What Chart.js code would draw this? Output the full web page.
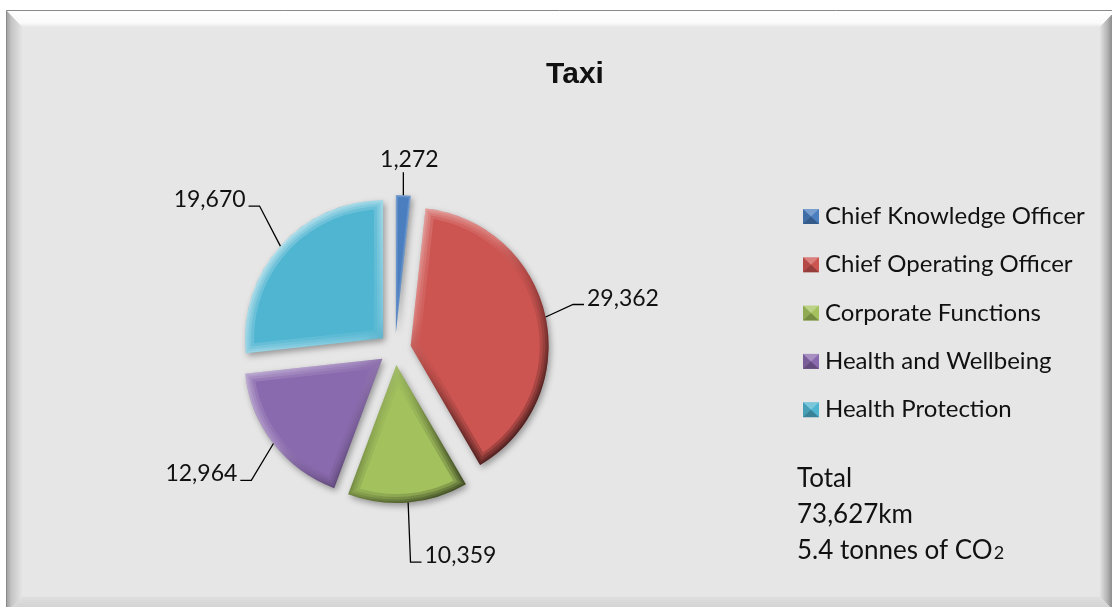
<!DOCTYPE html>
<html>
<head>
<meta charset="utf-8">
<title>Taxi</title>
<script src="https://cdn.jsdelivr.net/npm/chart.js@4.4.0/dist/chart.umd.min.js"></script>
<style>
  html, body { margin: 0; padding: 0; background: #ffffff; }
  #wrap { position: relative; width: 1112px; height: 607px; }
</style>
</head>
<body>
<div id="wrap"><canvas id="taxiChart"></canvas></div>
<script>
// ---- data ----
const chartTitle = 'Taxi';
const categories = ['Chief Knowledge Officer', 'Chief Operating Officer', 'Corporate Functions', 'Health and Wellbeing', 'Health Protection'];
const kilometres = [1272, 29362, 10359, 12964, 19670];
const co2Tonnes = 5.4;

// ---- styling ----
const sliceColors = ['#4a7ebf', '#cd5551', '#a3c25e', '#8a6aae', '#50b5d1'];
const TEXT_COLOR = '#111111';
const FONT = 'Lato, "Open Sans", sans-serif';
const W = 1112, H = 607;
const PIE_CX = 395, PIE_CY = 349, PIE_R = 138, EXPLODE = 16;
// label elbows sit on an ellipse around the pie
const LEADER_X = 28, LEADER_Y = 60, LEADER_TOP = 23;

const fmt = v => v.toLocaleString('en-US');
const totalKm = kilometres.reduce((a, b) => a + b, 0);

// Gray bevelled frame behind everything
const framePlugin = {
  id: 'frame',
  beforeDraw(chart) {
    const ctx = chart.ctx;
    const L = 6, T = 10, R = 1116, B = 613, bw = 16;
    ctx.save();
    ctx.fillStyle = '#ffffff';
    ctx.fillRect(0, 0, W, H);
    ctx.fillStyle = '#e6e6e6';
    ctx.fillRect(L, T, R - L, B - T);

    // top bevel
    let g = ctx.createLinearGradient(0, T, 0, T + bw + 1);
    g.addColorStop(0, '#ffffff'); g.addColorStop(0.75, '#fbfbfb'); g.addColorStop(1, '#e8e8e8');
    ctx.fillStyle = g;
    ctx.beginPath(); ctx.moveTo(L, T); ctx.lineTo(R, T); ctx.lineTo(R - bw, T + bw + 1); ctx.lineTo(L + bw, T + bw + 1); ctx.closePath(); ctx.fill();
    // left bevel
    g = ctx.createLinearGradient(L, 0, L + bw, 0);
    g.addColorStop(0, '#9c9c9c'); g.addColorStop(0.35, '#c6c6c6'); g.addColorStop(1, '#e4e4e4');
    ctx.fillStyle = g;
    ctx.beginPath(); ctx.moveTo(L, T); ctx.lineTo(L + bw, T + bw + 1); ctx.lineTo(L + bw, B - bw); ctx.lineTo(L, B); ctx.closePath(); ctx.fill();
    // right bevel
    g = ctx.createLinearGradient(R - bw, 0, R, 0);
    g.addColorStop(0, '#e2e2e2'); g.addColorStop(0.45, '#b4b4b4'); g.addColorStop(0.75, '#8c8c8c'); g.addColorStop(1, '#7a7a7a');
    ctx.fillStyle = g;
    ctx.beginPath(); ctx.moveTo(R, T); ctx.lineTo(R - bw, T + bw + 1); ctx.lineTo(R - bw, B - bw); ctx.lineTo(R, B); ctx.closePath(); ctx.fill();
    // bottom bevel
    g = ctx.createLinearGradient(0, B - bw, 0, B);
    g.addColorStop(0, '#dedede'); g.addColorStop(1, '#cfcfcf');
    ctx.fillStyle = g;
    ctx.beginPath(); ctx.moveTo(L + bw, B - bw); ctx.lineTo(R - bw, B - bw); ctx.lineTo(R, B); ctx.lineTo(L, B); ctx.closePath(); ctx.fill();

    // outer edge
    ctx.strokeStyle = '#8a8a8a';
    ctx.lineWidth = 1;
    ctx.beginPath(); ctx.moveTo(L + 0.5, B); ctx.lineTo(L + 0.5, T + 0.5); ctx.lineTo(R, T + 0.5); ctx.stroke();
    ctx.restore();
  }
};

// Pull every slice outward along its mid angle
const explodePlugin = {
  id: 'explode',
  afterDatasetUpdate(chart, args) {
    args.meta.data.forEach(arc => {
      const mid = (arc.startAngle + arc.endAngle) / 2;
      arc.x += Math.cos(mid) * EXPLODE;
      arc.y += Math.sin(mid) * EXPLODE;
    });
  }
};

function slicePath(ctx, a) {
  ctx.beginPath();
  ctx.moveTo(a.x, a.y);
  ctx.arc(a.x, a.y, a.outerRadius, a.startAngle, a.endAngle);
  ctx.closePath();
}

// Drop shadow under the slices and a soft bevel on their edges
const bevelPlugin = {
  id: 'bevel',
  beforeDatasetDraw(chart) {
    const ctx = chart.ctx;
    ctx.save();
    ctx.shadowColor = 'rgba(0,0,0,0.35)';
    ctx.shadowBlur = 6;
    ctx.shadowOffsetX = 2;
    ctx.shadowOffsetY = 3;
  },
  afterDatasetDraw(chart, args) {
    const ctx = chart.ctx;
    ctx.restore();
    args.meta.data.forEach(a => {
      const r = a.outerRadius;
      // thin slices get a narrower bevel so their colour stays visible
      const widths = (a.endAngle - a.startAngle) < 0.3 ? [4, 2] : [18, 12, 7, 3];
      ctx.save();
      slicePath(ctx, a);
      ctx.clip();
      const g = ctx.createLinearGradient(a.x - r * 0.75, a.y - r * 0.75, a.x + r * 0.75, a.y + r * 0.75);
      g.addColorStop(0, 'rgba(255,255,255,0.6)');
      g.addColorStop(0.45, 'rgba(255,255,255,0.2)');
      g.addColorStop(0.6, 'rgba(0,0,0,0.12)');
      g.addColorStop(1, 'rgba(0,0,0,0.7)');
      ctx.strokeStyle = g;
      ctx.lineJoin = 'round';
      ctx.globalAlpha = 0.32;
      widths.forEach(w => {
        ctx.lineWidth = w;
        slicePath(ctx, a);
        ctx.stroke();
      });
      ctx.restore();
    });
  }
};

// Value labels with elbow leader lines
const valueLabelPlugin = {
  id: 'valueLabels',
  afterDatasetsDraw(chart) {
    const ctx = chart.ctx;
    const meta = chart.getDatasetMeta(0);
    const values = chart.data.datasets[0].data;
    const ca = chart.chartArea;
    const cx = (ca.left + ca.right) / 2, cy = (ca.top + ca.bottom) / 2;
    ctx.save();
    ctx.font = '23px ' + FONT;
    ctx.fillStyle = TEXT_COLOR;
    ctx.strokeStyle = '#000000';
    ctx.lineWidth = 1.3;
    meta.data.forEach((a, i) => {
      const mid = (a.startAngle + a.endAngle) / 2;
      const dx = Math.cos(mid), dy = Math.sin(mid);
      const px = a.x + dx * a.outerRadius, py = a.y + dy * a.outerRadius;
      const base = a.outerRadius + EXPLODE;
      const ex = cx + dx * (base + LEADER_X), ey = cy + dy * (base + LEADER_Y);
      const text = fmt(values[i]);
      if (Math.abs(dx) < 0.1 && dy < 0) {
        const ty = py - LEADER_TOP;
        ctx.beginPath(); ctx.moveTo(px, py); ctx.lineTo(px, ty); ctx.stroke();
        ctx.textAlign = 'center';
        ctx.textBaseline = 'alphabetic';
        ctx.fillText(text, px + 6, ty - 5);
      } else {
        const side = dx >= 0 ? 1 : -1;
        ctx.beginPath(); ctx.moveTo(px, py); ctx.lineTo(ex, ey); ctx.lineTo(ex + side * 11, ey); ctx.stroke();
        ctx.textAlign = side > 0 ? 'left' : 'right';
        ctx.textBaseline = 'alphabetic';
        ctx.fillText(text, ex + side * 14, ey + 1);
      }
    });
    ctx.restore();
  }
};

// Title, legend and totals
const annotationPlugin = {
  id: 'annotations',
  afterDraw(chart) {
    const ctx = chart.ctx;
    const colors = chart.data.datasets[0].backgroundColor;
    ctx.save();
    ctx.fillStyle = TEXT_COLOR;
    ctx.textBaseline = 'alphabetic';

    ctx.font = 'bold 30px "Liberation Sans", Arial, sans-serif';
    ctx.textAlign = 'center';
    ctx.fillText(chartTitle, 575, 83);

    ctx.textAlign = 'left';
    ctx.font = '24px ' + FONT;
    chart.data.labels.forEach((lab, i) => {
      const base = 224 + i * 48.3;
      const bx = 803, by = base - 15, bw = 16, bh = 15;
      ctx.fillStyle = colors[i];
      ctx.fillRect(bx, by, bw, bh);
      // pyramid shading on the swatch
      ctx.fillStyle = 'rgba(255,255,255,0.25)';
      ctx.beginPath(); ctx.moveTo(bx, by); ctx.lineTo(bx + bw, by); ctx.lineTo(bx + bw / 2, by + bh / 2); ctx.closePath(); ctx.fill();
      ctx.fillStyle = 'rgba(0,0,0,0.28)';
      ctx.beginPath(); ctx.moveTo(bx, by + bh); ctx.lineTo(bx + bw, by + bh); ctx.lineTo(bx + bw / 2, by + bh / 2); ctx.closePath(); ctx.fill();
      ctx.fillStyle = 'rgba(0,0,0,0.12)';
      ctx.beginPath(); ctx.moveTo(bx, by); ctx.lineTo(bx, by + bh); ctx.lineTo(bx + bw / 2, by + bh / 2); ctx.closePath(); ctx.fill();
      ctx.fillStyle = TEXT_COLOR;
      ctx.fillText(lab, 825, base);
    });

    ctx.font = '26px ' + FONT;
    ctx.fillText('Total', 797, 487);
    ctx.fillText(fmt(totalKm) + 'km', 797, 523);
    const co2Text = co2Tonnes.toFixed(1) + ' tonnes of CO';
    ctx.fillText(co2Text, 797, 559);
    const w = ctx.measureText(co2Text).width;
    ctx.font = '18px ' + FONT;
    ctx.fillText('2', 797 + w + 1, 559);
    ctx.restore();
  }
};

new Chart(document.getElementById('taxiChart'), {
  type: 'pie',
  data: {
    labels: categories,
    datasets: [{
      data: kilometres,
      backgroundColor: sliceColors,
      borderWidth: 0
    }]
  },
  options: {
    responsive: true,
    maintainAspectRatio: false,
    animation: false,
    radius: PIE_R,
    events: [],
    layout: {
      padding: { left: PIE_CX - 200, right: W - (PIE_CX + 200), top: PIE_CY - 200, bottom: H - (PIE_CY + 200) }
    },
    plugins: {
      legend: { display: false },
      title: { display: false },
      tooltip: { enabled: false }
    }
  },
  plugins: [framePlugin, explodePlugin, bevelPlugin, valueLabelPlugin, annotationPlugin]
});
</script>
</body>
</html>
